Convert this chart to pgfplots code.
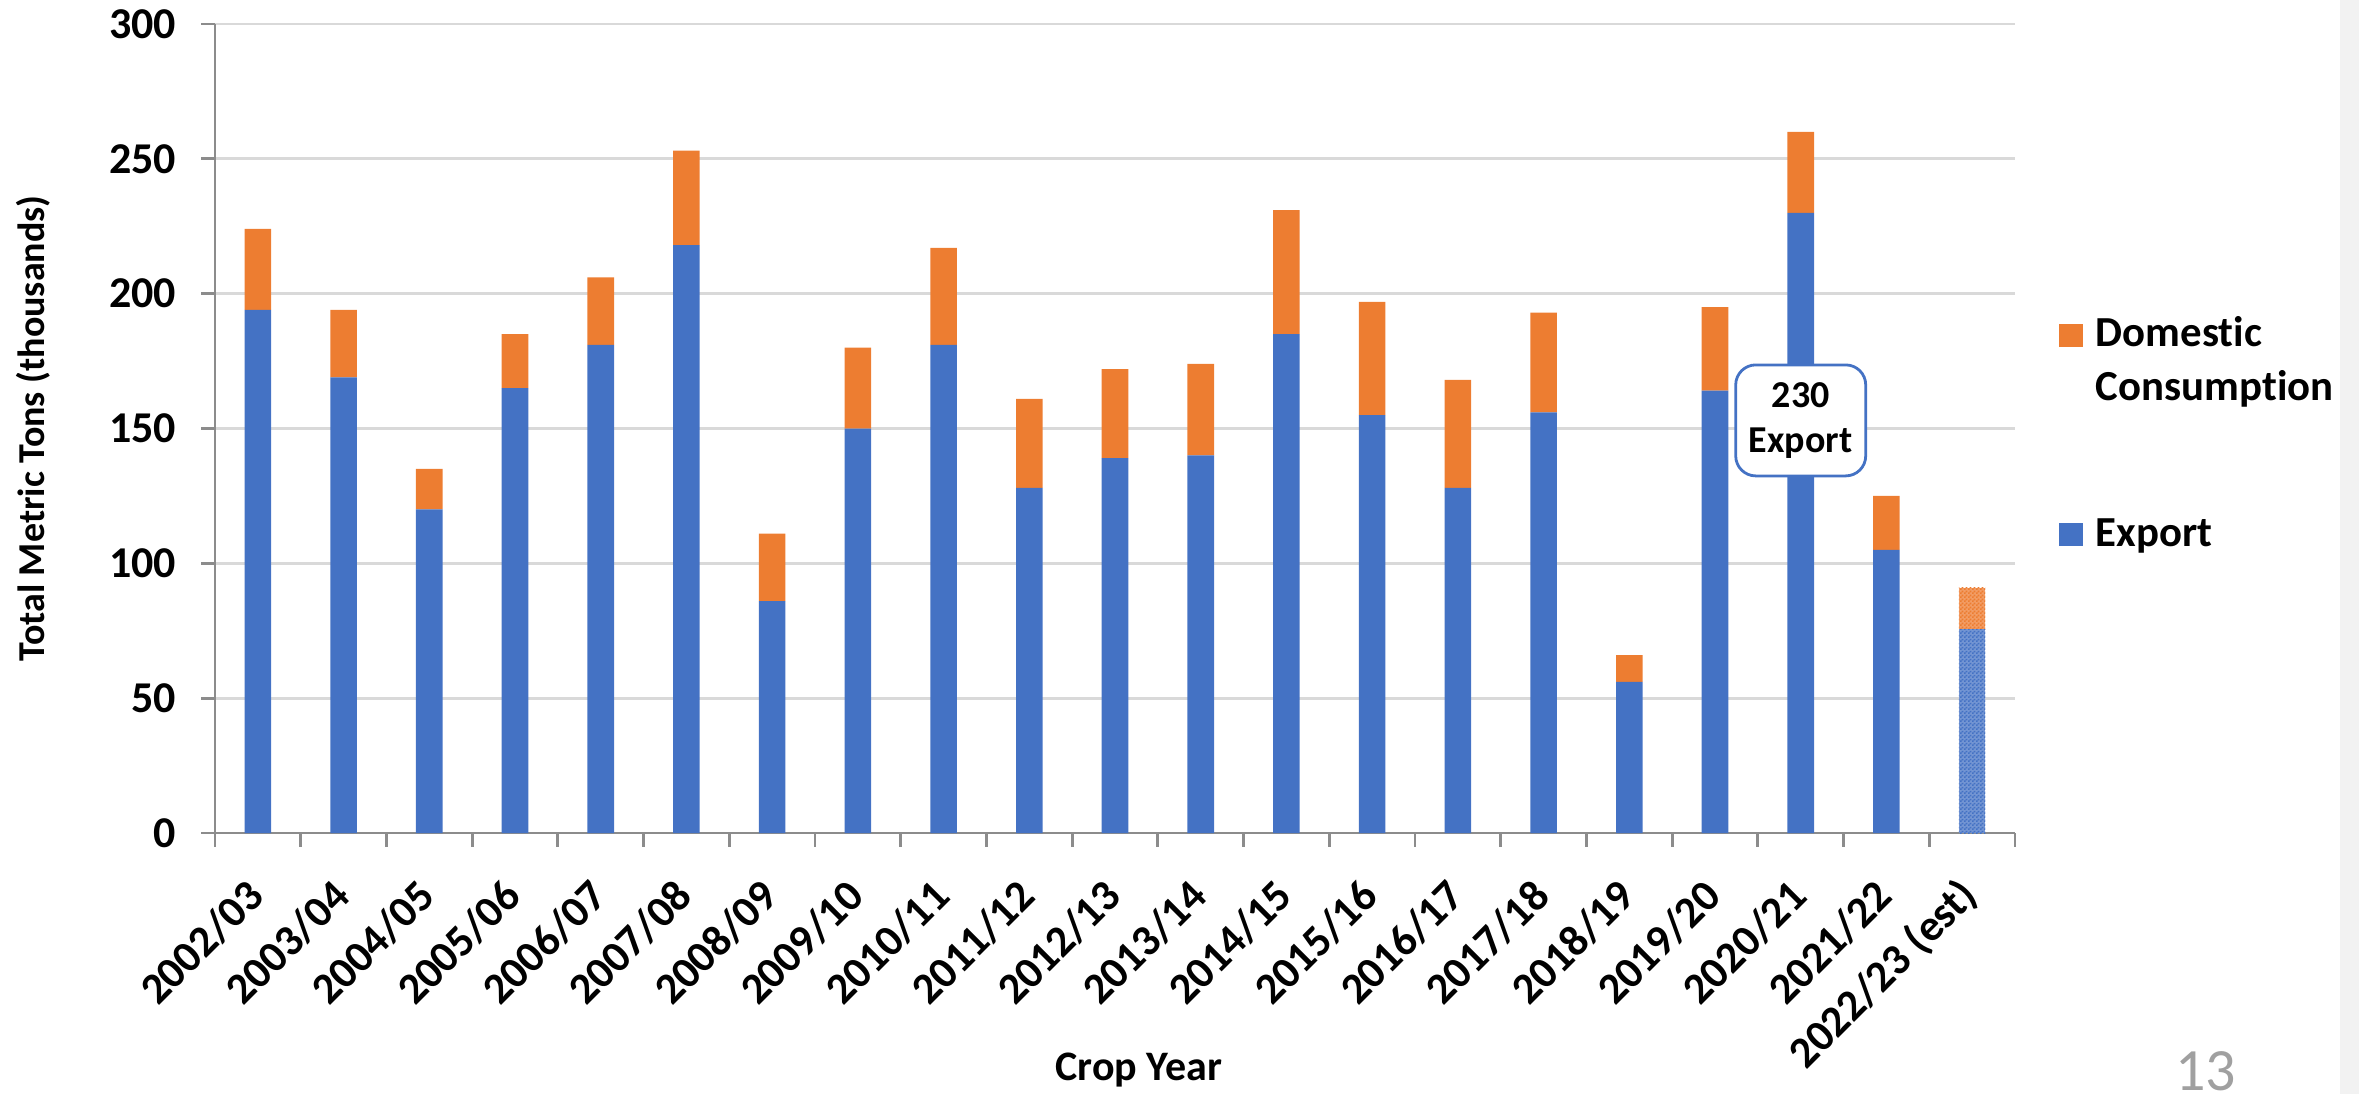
\documentclass[border=0pt]{standalone}
\usepackage{fontspec}
\setmainfont{Carlito}[Ligatures=NoCommon]
\usepackage{pgfplots}
\usepackage{pgfplotstable}
\pgfplotsset{compat=1.18}
\usetikzlibrary{patterns}

\definecolor{expblue}{HTML}{4472C4}
\definecolor{domorange}{HTML}{ED7D31}
\definecolor{gridgray}{HTML}{D9D9D9}
\definecolor{axisgray}{HTML}{8C8C8C}
\definecolor{pagegray}{HTML}{A0A0A0}
\definecolor{stripgray}{HTML}{F2F2F2}

% fine checker, like Excel's dotted grid fill
\pgfdeclarepatternformonly{finecheck}{\pgfpointorigin}{\pgfpoint{1pt}{1pt}}{\pgfpoint{1pt}{1pt}}{
  \pgfpathrectangle{\pgfpointorigin}{\pgfpoint{0.5pt}{0.5pt}}
  \pgfpathrectangle{\pgfpoint{0.5pt}{0.5pt}}{\pgfpoint{0.5pt}{0.5pt}}
  \pgfusepath{fill}
}

% export / domestic, thousands of metric tons; last year is an estimate
\pgfplotstableread{
x  exp  dom  expest domest
0  194  30   0      0
1  169  25   0      0
2  120  15   0      0
3  165  20   0      0
4  181  25   0      0
5  218  35   0      0
6  86   25   0      0
7  150  30   0      0
8  181  36   0      0
9  128  33   0      0
10 139  33   0      0
11 140  34   0      0
12 185  46   0      0
13 155  42   0      0
14 128  40   0      0
15 156  37   0      0
16 56   10   0      0
17 164  31   0      0
18 230  30   0      0
19 105  20   0      0
20 0    0    75.5   15.5
}\cropdata

\begin{document}
\begin{tikzpicture}
\useasboundingbox (0,0) rectangle (589.75pt,273.5pt);
\fill[stripgray] (585pt,0) rectangle (589.75pt,273.5pt);

\begin{axis}[
    at={(53.75pt,65.25pt)}, anchor=south west,
    scale only axis,
    width=450pt, height=202.25pt,
    ybar stacked,
    bar width=0.31,
    xmin=-0.5, xmax=20.5,
    ymin=0, ymax=300,
    ytick={0,50,...,300},
    xtick={0,...,20},
    xticklabels={2002/03,2003/04,2004/05,2005/06,2006/07,2007/08,2008/09,2009/10,2010/11,2011/12,2012/13,2013/14,2014/15,2015/16,2016/17,2017/18,2018/19,2019/20,2020/21,2021/22,2022/23 (est)},
    minor xtick={-0.5,0.5,...,20.5},
    axis lines*=left,
    axis line style={axisgray, line width=0.7pt},
    ymajorgrids,
    grid style={gridgray, line width=0.7pt},
    tick align=outside,
    major tick length=3.4pt,
    minor tick length=3.4pt,
    tick style={axisgray, line width=0.7pt},
    major x tick style={draw=none},
    /pgf/number format/assume math mode=true,
    yticklabel style={font=\bfseries\fontsize{11}{13}\selectfont, xshift=-2.75pt},
    xticklabel style={xshift=2pt, yshift=-8pt, rotate=45, anchor=east, font=\bfseries\fontsize{11}{13}\selectfont},
    ylabel={Total Metric Tons (thousands)},
    every axis y label/.style={at={(axis description cs:-0.1011,0.5)}, rotate=90, anchor=center,
        font=\bfseries\fontsize{9.5}{11}\selectfont},
]
\addplot[fill=expblue, draw=none] table[x=x, y=exp] {\cropdata};
\addplot[fill=domorange, draw=none] table[x=x, y=dom] {\cropdata};
\addplot[fill=expblue!75!white, draw=none, postaction={pattern=finecheck, pattern color=expblue}] table[x=x, y=expest] {\cropdata};
\addplot[fill=domorange!75!white, draw=none, postaction={pattern=finecheck, pattern color=domorange}] table[x=x, y=domest] {\cropdata};

\coordinate (callout) at (axis cs:18,153);
\end{axis}

% data callout on the 2020/21 export bar
\node[draw=expblue, fill=white, rounded corners=5pt, line width=0.7pt, align=center,
      minimum width=32.5pt, minimum height=27.75pt, inner sep=1pt,
      font=\bfseries\fontsize{9.5}{11.3}\selectfont] at (callout) {230\\Export};

% legend
\fill[domorange] (514.75pt,186.75pt) rectangle (520.75pt,192.5pt);
\node[anchor=base west, inner sep=0, font=\bfseries\fontsize{10.7}{13.5}\selectfont] at (523.75pt,186.75pt) {Domestic};
\node[anchor=base west, inner sep=0, font=\bfseries\fontsize{10.7}{13.5}\selectfont] at (523.75pt,173.25pt) {Consumption};
\fill[expblue] (514.75pt,137pt) rectangle (520.75pt,142.75pt);
\node[anchor=base west, inner sep=0, font=\bfseries\fontsize{10.7}{13.5}\selectfont] at (523.75pt,136.75pt) {Export};

% x axis title and slide number
\node[anchor=base, inner sep=0, font=\bfseries\fontsize{10.5}{12}\selectfont] at (284.75pt,3.5pt) {Crop Year};
\node[anchor=base, inner sep=0, text=pagegray, font=\fontsize{15}{18}\selectfont] at (551.4pt,0.8pt) {13};
\end{tikzpicture}
\end{document}
